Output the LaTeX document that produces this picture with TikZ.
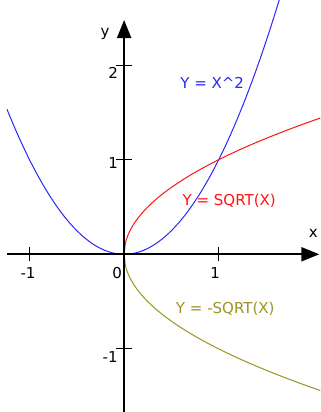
\documentclass[tikz,border=0pt]{standalone}
\usepackage{fontspec}
\setmainfont{DejaVu Sans}
\usetikzlibrary{arrows.meta}
\definecolor{curveblue}{RGB}{40,40,255}
\definecolor{curvered}{RGB}{255,20,20}
\definecolor{curveolive}{RGB}{155,148,35}
\begin{document}
\begin{tikzpicture}[x=94.5pt,y=94.5pt,
  axis/.style={line width=2.2pt,-{Triangle[length=18pt,width=14pt]}},
  tick/.style={line width=1pt},
  lbl/.style={font=\fontsize{15}{17}\selectfont,inner sep=0pt},
  curve/.style={line width=1pt}]
\useasboundingbox (-1.312,-1.667) rectangle (2.074,2.688);
\fill[white] (-1.312,-1.667) rectangle (2.074,2.688);
\begin{scope}
\clip (-1.312,-1.667) rectangle (2.074,2.688);
\draw[curve,curveblue] plot[domain=-1.238:1.66,samples=120,smooth] (\x,{\x*\x});
\draw[curve,curvered] plot[domain=0:2.074,samples=150,smooth] (\x,{sqrt(\x)});
\draw[curve,curveolive] plot[domain=0:2.074,samples=150,smooth] (\x,{-sqrt(\x)});
\end{scope}
\coordinate (xs) at (-1.238,0);
\coordinate (xe) at (2.063,0);
\coordinate (ys) at (0,-1.7);
\coordinate (ye) at (0,2.476);
\draw[axis] (xs) -- (xe);
\draw[axis] (ys) -- (ye);
\foreach \t in {-1,1} \draw[tick] (\t,-0.074) -- (\t,0.074);
\foreach \t in {-1,1,2} \draw[tick] (-0.085,\t) -- (0.085,\t);
\node[lbl] (ylab) at (-0.201,2.33) {y};
\node[lbl] (xlab) at (2.0,0.222) {x};
\node[lbl] (y2) at (-0.116,1.915) {2};
\node[lbl] (y1) at (-0.116,0.97) {1};
\node[lbl] (ym1) at (-0.148,-1.09) {-1};
\node[lbl] (xm1) at (-1.016,-0.201) {-1};
\node[lbl] (x0) at (-0.074,-0.201) {0};
\node[lbl] (x1) at (0.963,-0.201) {1};
\node[lbl,text=curveblue] (l1) at (0.931,1.81) {Y = X\textasciicircum 2};
\node[lbl,text=curvered] (l2) at (1.111,0.57) {Y = SQRT(X)};
\node[lbl,text=curveolive] (l3) at (1.069,-0.575) {Y = -SQRT(X)};
\end{tikzpicture}
\end{document}
